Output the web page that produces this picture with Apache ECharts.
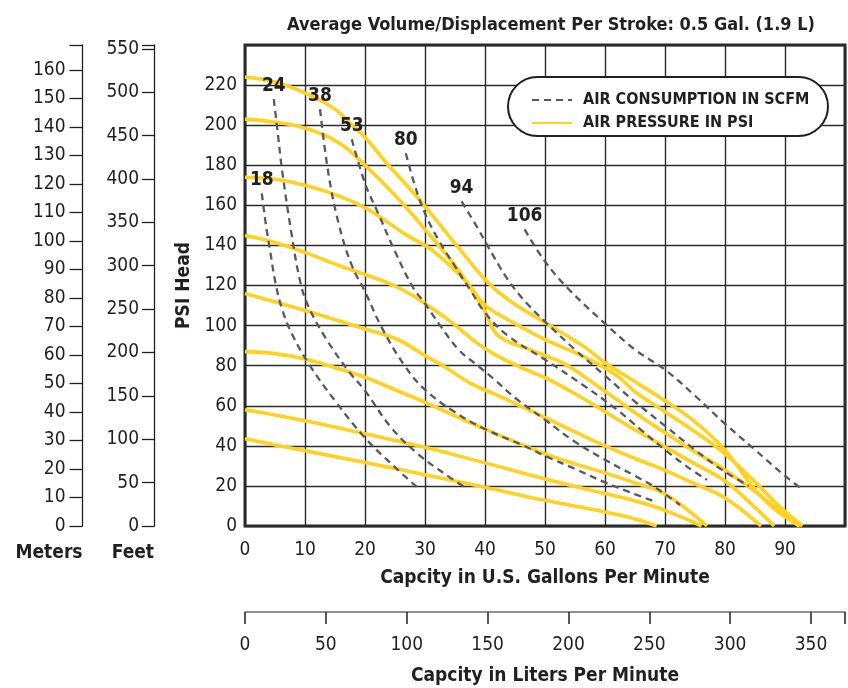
<!DOCTYPE html>
<html>
<head>
<meta charset="utf-8">
<script src="https://cdn.jsdelivr.net/npm/echarts@6/dist/echarts.min.js"></script>
<style>
  html, body { margin: 0; padding: 0; background: #fff; }
  #chart { width: 848px; height: 688px; }
</style>
</head>
<body>
<div id="chart"></div>
<script>
var FONT = "'Liberation Sans Narrow', 'DejaVu Sans Condensed', 'Roboto', sans-serif";
var INK = '#231f20';

// air pressure curves (psi head vs gpm)
var psi224 = [[0,224],[5,221.5],[10,216],[15,208],[17.8,200],[20,194],[23.9,180],[25.6,174.5],[30,159.5],[35,141],[40,123],[43.8,113],[50,101.5],[56.5,89.5],[60,81.5],[65,72],[70,62.5],[75,52],[80,38],[84,22],[88,9],[92.5,0]];
var psi203 = [[0,203],[5,201.5],[10,198.5],[15.6,191.3],[20,180],[25,165],[30,148],[35,130],[37.5,119],[40,107],[41.6,97],[43.5,92.5],[46.6,89],[50,85],[53.2,81],[58.7,70],[62,63],[65,56.5],[70,46.5],[75,37],[80,28],[86,15],[92.3,0]];
var psi174 = [[0,174],[5,173],[10,170],[15.6,164.7],[20,158.8],[23.9,151.3],[27,145],[31.1,137.8],[36.6,122.8],[40.1,110],[43.8,103],[50,93],[56.5,84.5],[62,75],[65,67],[70,57],[75,47],[80,36],[85,22],[89,10],[92.9,0]];
var psi145 = [[0,145],[5,141.5],[10,136.5],[15.6,130],[20,125.5],[25.5,119],[30,111],[34.4,101.7],[38.8,91],[42,85],[46,79],[50,74],[55,66],[60,57],[65,48],[70,39.5],[75,31],[80,22.5],[84,12],[88.2,0]];
var psi116 = [[0,116],[10,107.5],[20,98.3],[25.6,92.8],[30,85],[33,80],[37.7,71],[42,65.3],[48.7,56],[55,47],[60,40],[65,33.7],[70,27.8],[75,21],[80,14],[86,0]];
var psi87 = [[0,87],[5,86],[10,83.3],[15,79],[20,74.2],[25,68],[30,61.7],[35,55],[40,48.3],[45,42],[50,36],[55,31],[60,26.5],[65,21.5],[70,16],[77,0]];
var psi58 = [[0,58],[10,52.5],[20,46],[30,39.3],[40,31.5],[50,23.5],[60,16.2],[65,12.5],[70,7.8],[76.1,0]];
var psi44 = [[0,43.5],[10,37.5],[20,31.7],[30,25.6],[40,19.3],[50,12.8],[60,7],[65,3.5],[68.6,0]];

// air consumption curves (scfm)
var scfm18 = [[2.8,166],[3.5,150],[4.2,137],[5.1,121],[6.2,108],[7.8,96],[10.6,81],[15,62.5],[20,44],[24.4,31],[28.8,19]];
var scfm24 = [[4.8,213],[5.5,195],[6.2,177],[7.8,145],[9.2,122],[10.5,110],[13.4,94],[17.2,77.5],[20,67.5],[24.4,49],[28.8,36],[33.3,26],[36.8,19]];
var scfm38 = [[12.5,208],[13.9,176],[15.6,151],[17.8,130],[20,117],[22.8,99],[26.6,80],[30,68],[34.9,57],[39.9,48.5],[46.5,40],[50,35],[55,28.5],[59.8,22],[64,17],[68,12.5]];
var scfm53 = [[17.8,193],[20,171],[22.2,156],[25,137],[28,119],[30,111],[32.3,101],[35.6,88],[38.8,80],[41.6,73],[45,64],[50,53],[55,42],[60,33],[65,25],[68.5,19],[72.5,10.5]];
var scfm80 = [[26.8,186],[28.3,170],[30,156],[32.2,143],[34.9,130],[37.7,117],[40.1,106],[43.8,95],[50,83],[56.5,70],[62,58],[66,48],[70,38],[73.5,30],[77,23]];
var scfm94 = [[36.1,162],[38.9,148],[40.2,141],[43.8,123],[47,111],[50,102],[55,88],[60,75],[65,62],[70,50],[75,38],[80,27],[84,20]];
var scfm106 = [[46.6,148],[50,132],[54,118],[60,101],[65,88],[70,78],[75,65],[80,51],[85,38],[90,25],[93,18]];

var pressureCurves = [psi224, psi203, psi174, psi145, psi116, psi87, psi58, psi44];
var consumptionCurves = [scfm18, scfm24, scfm38, scfm53, scfm80, scfm94, scfm106];
var consumptionLabels = ['18', '24', '38', '53', '80', '94', '106'];

var PRESSURE_NAME = 'AIR PRESSURE IN PSI';
var CONSUMPTION_NAME = 'AIR CONSUMPTION IN SCFM';

var chart = echarts.init(document.getElementById('chart'));

var series = [];
pressureCurves.forEach(function (pts) {
	series.push({
		name: PRESSURE_NAME,
		type: 'line',
		xAxisIndex: 0, yAxisIndex: 0,
		data: pts,
		symbol: 'none',
		smooth: 0.4,
		z: 3,
		lineStyle: { color: '#ffd21f', width: 3.6 },
		itemStyle: { color: '#ffd21f' }
	});
});
consumptionCurves.forEach(function (pts, k) {
	series.push({
		name: CONSUMPTION_NAME,
		type: 'line',
		xAxisIndex: 0, yAxisIndex: 0,
		data: pts.map(function (p, i) {
			if (i === 0) {
				return { value: p, label: { show: true, formatter: consumptionLabels[k] } };
			}
			return p;
		}),
		symbol: 'circle',
		symbolSize: 0,
		showSymbol: true,
		smooth: 0.4,
		z: 4,
		label: {
			show: false,
			position: 'top', distance: 4,
			fontFamily: FONT, fontWeight: 'bold', fontSize: 19, color: INK
		},
		lineStyle: { color: '#58595b', width: 2.3, type: [7, 5] },
		itemStyle: { color: '#58595b' }
	});
});

var axisText = { fontFamily: FONT, fontSize: 19, color: INK };
var nameText = { fontFamily: FONT, fontSize: 19, fontWeight: 'bold', color: INK };

var option = {
	animation: false,
	backgroundColor: '#fff',
	title: {
		text: 'Average Volume/Displacement Per Stroke: 0.5 Gal. (1.9 L)',
		left: 546, top: 11, textAlign: 'center',
		textStyle: { fontFamily: FONT, fontSize: 18, fontWeight: 'bold', color: INK }
	},
	legend: {
		data: [CONSUMPTION_NAME, PRESSURE_NAME],
		orient: 'vertical',
		left: 531, top: 92,
		itemWidth: 40, itemHeight: 12, itemGap: 7,
		padding: 0,
		selectedMode: false,
		itemStyle: { opacity: 0 },
		textStyle: { fontFamily: FONT, fontSize: 16, fontWeight: 'bold', color: INK, padding: [0, 0, 0, 6] }
	},
	graphic: [{
		type: 'rect', z: 3,
		shape: { x: 508, y: 77, width: 320, height: 59, r: 29.5 },
		style: { fill: '#fff', stroke: INK, lineWidth: 2 }
	}],
	grid: [
		{ left: 245, right: 0, top: 45, bottom: 162, show: true, borderColor: '#2b2b2b', borderWidth: 3, backgroundColor: '#fff' },
		{ left: 82.5, width: 1, top: 45, bottom: 162 },
		{ left: 154, width: 1, top: 45, bottom: 162 },
		{ left: 245, right: 0, top: 611, height: 1 }
	],
	xAxis: [
		{
			gridIndex: 0, type: 'value', min: 0, max: 100, interval: 10,
			axisLine: { show: false }, axisTick: { show: false },
			axisLabel: Object.assign({ margin: 15, formatter: function (v) { return v === 100 ? '' : v; } }, axisText),
			splitLine: { show: true, lineStyle: { color: '#2b2b2b', width: 1.4 } },
			name: 'Capcity in U.S. Gallons Per Minute',
			nameLocation: 'middle', nameGap: 52,
			nameTextStyle: Object.assign({ verticalAlign: 'middle' }, nameText)
		},
		{ gridIndex: 1, type: 'value', show: false },
		{ gridIndex: 2, type: 'value', show: false },
		{
			gridIndex: 3, type: 'value', min: 0, max: 371, interval: 50, position: 'bottom',
			axisLine: { show: true, lineStyle: { color: '#6d6e71', width: 1.5 } },
			axisTick: { show: true, length: 12, lineStyle: { color: INK, width: 1.5 } },
			axisLabel: Object.assign({ margin: 24, formatter: function (v) { return v % 50 === 0 ? v : ''; } }, axisText),
			splitLine: { show: false },
			name: 'Capcity in Liters Per Minute',
			nameLocation: 'middle', nameGap: 64,
			nameTextStyle: Object.assign({ verticalAlign: 'middle' }, nameText)
		}
	],
	yAxis: [
		{
			gridIndex: 0, type: 'value', min: 0, max: 240, interval: 20,
			axisLine: { show: false }, axisTick: { show: false },
			axisLabel: Object.assign({ margin: 8, formatter: function (v) { return v === 240 ? '' : v; } }, axisText),
			splitLine: { show: true, lineStyle: { color: '#2b2b2b', width: 1.4 } },
			name: 'PSI Head',
			nameLocation: 'middle', nameGap: 37, nameRotate: 90,
			nameTextStyle: nameText
		},
		{
			gridIndex: 1, type: 'value', min: 0, max: 168.7, interval: 10, position: 'left',
			axisLine: { show: true, lineStyle: { color: INK, width: 1.3 } },
			axisTick: { show: true, length: 13, lineStyle: { color: INK, width: 1.3 } },
			axisLabel: Object.assign({ margin: 17, formatter: function (v) { return v % 10 === 0 ? v : ''; } }, axisText),
			splitLine: { show: false },
			name: 'Meters', nameLocation: 'start', nameGap: 27,
			nameTextStyle: Object.assign({ align: 'right', verticalAlign: 'middle' }, nameText)
		},
		{
			gridIndex: 2, type: 'value', min: 0, max: 554.4, interval: 50, position: 'left',
			axisLine: { show: true, lineStyle: { color: INK, width: 1.3 } },
			axisTick: { show: true, length: 12, lineStyle: { color: INK, width: 1.3 } },
			axisLabel: Object.assign({ margin: 15, formatter: function (v) { return v % 50 === 0 ? v : ''; } }, axisText),
			splitLine: { show: false },
			name: 'Feet', nameLocation: 'start', nameGap: 27,
			nameTextStyle: Object.assign({ align: 'right', verticalAlign: 'middle' }, nameText)
		},
		{ gridIndex: 3, type: 'value', show: false }
	],
	series: series
};

chart.setOption(option);
</script>
</body>
</html>
